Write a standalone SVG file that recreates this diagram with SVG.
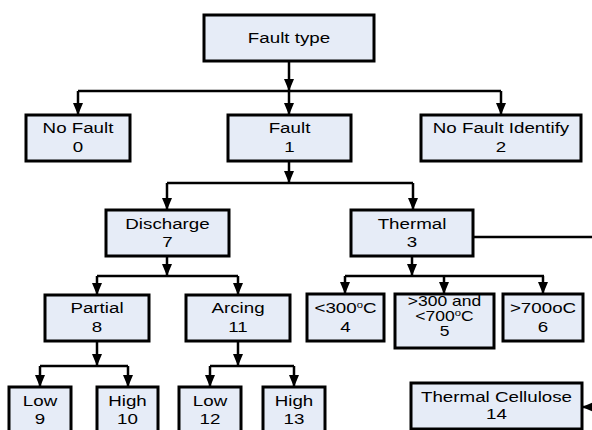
<svg xmlns="http://www.w3.org/2000/svg" width="592" height="430" viewBox="0 0 592 430">
<defs>
<style>
.n rect{fill:#e6ecf7;stroke:#000;stroke-width:3}
.n text{font-family:"Liberation Sans",Arial,sans-serif;font-size:15px;text-anchor:middle;fill:#000}
.n text.s{font-size:14px}
.c line,.c polyline{stroke:#000;stroke-width:2.5;fill:none}
.sup{font-size:9px}
</style>
<marker id="ah" viewBox="0 0 12 10" refX="12" refY="5" markerWidth="12" markerHeight="10" markerUnits="userSpaceOnUse" orient="auto">
<path d="M0,0 L12,5 L0,10 Z" fill="#000"/>
</marker>
</defs>
<rect width="592" height="430" fill="#fff"/>
<g id="connectors" class="c">
<line x1="289" y1="61" x2="289" y2="91" marker-end="url(#ah)"/>
<polyline points="78,91 501,91"/>
<line x1="78" y1="91" x2="78" y2="115" marker-end="url(#ah)"/>
<line x1="289" y1="91" x2="289" y2="115" marker-end="url(#ah)"/>
<line x1="501" y1="91" x2="501" y2="115" marker-end="url(#ah)"/>
<line x1="289" y1="161" x2="289" y2="183" marker-end="url(#ah)"/>
<polyline points="167,183 413,183"/>
<line x1="167" y1="183" x2="167" y2="210" marker-end="url(#ah)"/>
<line x1="413" y1="183" x2="413" y2="210" marker-end="url(#ah)"/>
<line x1="167" y1="256" x2="167" y2="276" marker-end="url(#ah)"/>
<polyline points="97,276 238,276"/>
<line x1="97" y1="276" x2="97" y2="295" marker-end="url(#ah)"/>
<line x1="238" y1="276" x2="238" y2="295" marker-end="url(#ah)"/>
<line x1="412" y1="256" x2="412" y2="276" marker-end="url(#ah)"/>
<polyline points="345,276 544,276"/>
<line x1="345" y1="276" x2="345" y2="294" marker-end="url(#ah)"/>
<line x1="444" y1="276" x2="444" y2="294" marker-end="url(#ah)"/>
<line x1="543" y1="276" x2="543" y2="294" marker-end="url(#ah)"/>
<line x1="97" y1="341" x2="97" y2="366" marker-end="url(#ah)"/>
<polyline points="40,366 128,366"/>
<line x1="40" y1="366" x2="40" y2="387" marker-end="url(#ah)"/>
<line x1="128" y1="366" x2="128" y2="387" marker-end="url(#ah)"/>
<line x1="238" y1="341" x2="238" y2="366" marker-end="url(#ah)"/>
<polyline points="210,366 294,366"/>
<line x1="210" y1="366" x2="210" y2="387" marker-end="url(#ah)"/>
<line x1="294" y1="366" x2="294" y2="387" marker-end="url(#ah)"/>
<line x1="473" y1="237" x2="600" y2="237"/>
<line x1="600" y1="407" x2="582" y2="407" marker-end="url(#ah)"/>
</g>
<g id="n-faulttype" class="n"><rect x="204" y="15" width="170" height="46"/><text transform="translate(289,43) scale(1.25,1)">Fault type</text></g>
<g id="n0" class="n"><rect x="26" y="115" width="104" height="46"/><text transform="translate(78,133) scale(1.25,1)">No Fault</text><text transform="translate(78,152) scale(1.25,1)">0</text></g>
<g id="n1" class="n"><rect x="228" y="115" width="123" height="46"/><text transform="translate(289.5,133) scale(1.25,1)">Fault</text><text transform="translate(289.5,152) scale(1.25,1)">1</text></g>
<g id="n2" class="n"><rect x="421" y="115" width="160" height="46"/><text transform="translate(501,133) scale(1.25,1)">No Fault Identify</text><text transform="translate(501,152) scale(1.25,1)">2</text></g>
<g id="n7" class="n"><rect x="106" y="210" width="123" height="46"/><text transform="translate(167.5,229) scale(1.25,1)">Discharge</text><text transform="translate(167.5,247) scale(1.25,1)">7</text></g>
<g id="n3" class="n"><rect x="351" y="210" width="122" height="46"/><text transform="translate(412,229) scale(1.25,1)">Thermal</text><text transform="translate(412,247) scale(1.25,1)">3</text></g>
<g id="n8" class="n"><rect x="45" y="295" width="104" height="46"/><text transform="translate(97,313) scale(1.25,1)">Partial</text><text transform="translate(97,332) scale(1.25,1)">8</text></g>
<g id="n11" class="n"><rect x="186" y="295" width="104" height="46"/><text transform="translate(238,313) scale(1.25,1)">Arcing</text><text transform="translate(238,332) scale(1.25,1)">11</text></g>
<g id="n4" class="n"><rect x="307" y="294" width="77" height="47"/><text transform="translate(345.5,313) scale(1.25,1)">&lt;300<tspan class="sup" dy="-5">o</tspan><tspan dy="5">C</tspan></text><text transform="translate(345.5,332) scale(1.25,1)">4</text></g>
<g id="n5" class="n"><rect x="395" y="294" width="99" height="54"/><text class="s" transform="translate(444.5,305.5) scale(1.25,1)">&gt;300 and</text><text class="s" transform="translate(444.5,320.5) scale(1.25,1)">&lt;700<tspan class="sup" dy="-5">o</tspan><tspan dy="5">C</tspan></text><text class="s" transform="translate(444.5,336) scale(1.25,1)">5</text></g>
<g id="n6" class="n"><rect x="503" y="294" width="80" height="47"/><text transform="translate(543,313) scale(1.25,1)">&gt;700oC</text><text transform="translate(543,332) scale(1.25,1)">6</text></g>
<g id="n9" class="n"><rect x="9" y="387" width="62" height="50"/><text transform="translate(40,406) scale(1.25,1)">Low</text><text transform="translate(40,424) scale(1.25,1)">9</text></g>
<g id="n10" class="n"><rect x="97" y="387" width="61" height="50"/><text transform="translate(127.5,406) scale(1.25,1)">High</text><text transform="translate(127.5,424) scale(1.25,1)">10</text></g>
<g id="n12" class="n"><rect x="179" y="387" width="62" height="50"/><text transform="translate(210,406) scale(1.25,1)">Low</text><text transform="translate(210,424) scale(1.25,1)">12</text></g>
<g id="n13" class="n"><rect x="263" y="387" width="62" height="50"/><text transform="translate(294,406) scale(1.25,1)">High</text><text transform="translate(294,424) scale(1.25,1)">13</text></g>
<g id="n14" class="n"><rect x="411" y="383" width="171" height="46"/><text transform="translate(496.5,402) scale(1.25,1)">Thermal Cellulose</text><text transform="translate(496.5,419) scale(1.25,1)">14</text></g>
</svg>
